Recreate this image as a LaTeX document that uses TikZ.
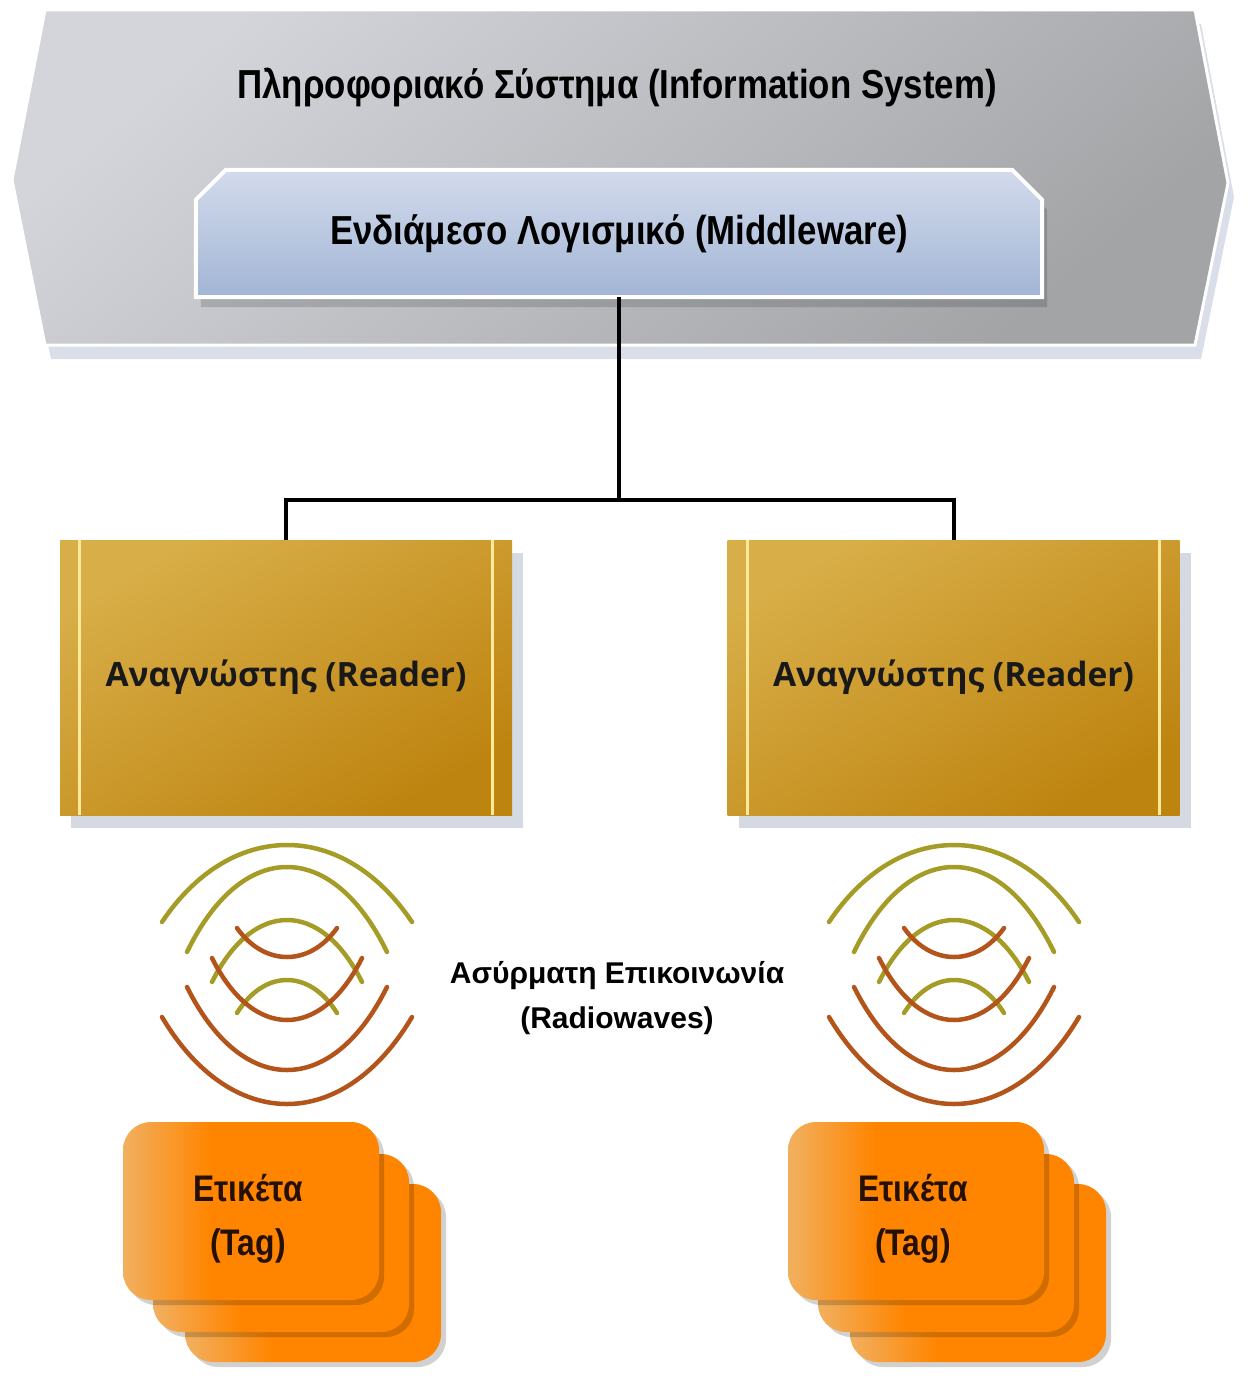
\documentclass[tikz,border=0pt]{standalone}
\usepackage{fontspec}
\setmainfont{Liberation Sans}
\newfontfamily\narrowfont[FakeStretch=0.86]{Liberation Sans}
\newfontfamily\readerfont{Open Sans}
\usetikzlibrary{positioning,shadows,backgrounds}

\definecolor{syslight}{HTML}{D3D5DB}
\definecolor{sysdark}{HTML}{A3A4A6}
\definecolor{sysshadow}{HTML}{D9DEE8}
\definecolor{mwlight}{HTML}{D3DBEC}
\definecolor{mwdark}{HTML}{A2B5D5}
\definecolor{readerlight}{HTML}{D8AE48}
\definecolor{readerdark}{HTML}{BE8410}
\definecolor{readerline}{HTML}{FFEA9C}
\definecolor{shadowgray}{HTML}{D4D9E2}
\definecolor{waveolive}{HTML}{A49C26}
\definecolor{wavebrown}{HTML}{B3541B}
\definecolor{taglight}{HTML}{F1B060}
\definecolor{tagorange}{HTML}{FF8500}
\definecolor{tagtext}{HTML}{241005}

\pgfdeclarehorizontalshading{tagshade}{100bp}{color(0bp)=(taglight); color(25bp)=(taglight); color(42bp)=(tagorange); color(100bp)=(tagorange)}

\begin{document}
\begin{tikzpicture}[x=1pt,y=-1pt,
  link/.style={line width=4pt,black},
  bigtext/.style={font=\narrowfont\bfseries\fontsize{40.5}{44}\selectfont},
  reader/.style={minimum width=452pt,minimum height=275pt,inner sep=0pt,
    top color=readerlight,bottom color=readerdark,shading angle=30,
    drop shadow={shadow xshift=11pt,shadow yshift=-13pt,fill=shadowgray,opacity=1},
    font=\readerfont\bfseries\fontsize{33.5}{36}\selectfont,text=black!90},
  tagcard/.style={minimum width=256pt,minimum height=178pt,rounded corners=28pt,
    shading=tagshade,drop shadow={shadow xshift=5pt,shadow yshift=-5pt,fill=black,opacity=0.18}},
  tagtext/.style={font=\narrowfont\bfseries\fontsize{37}{54}\selectfont,text=tagtext,align=center},
  olive/.style={waveolive,line width=4.5pt,line cap=round},
  brown/.style={wavebrown,line width=4.5pt,line cap=round}]

\useasboundingbox (0,0) rectangle (1252,1378);

% system and middleware
\node[bigtext] (sys) at (617,88) {Πληροφοριακό Σύστημα (Information System)};
\node[bigtext,minimum width=846pt,minimum height=127pt] (mw) at (619,233.5) {Ενδιάμεσο Λογισμικό (Middleware)};

\begin{scope}[on background layer]
\path[top color=syslight,bottom color=sysdark,shading angle=40,draw=white,line width=3pt,
  drop shadow={shadow xshift=6pt,shadow yshift=-14pt,fill=sysshadow,opacity=1}]
  (45,10) -- (1195,10) -- (1228,183) -- (1195,345) -- (45,345) -- (12,180) -- cycle;
\path[top color=mwlight,bottom color=mwdark,draw=white,line width=4pt,
  drop shadow={shadow xshift=5pt,shadow yshift=-10pt,fill=black,opacity=0.15}]
  (mw.south west) -- ([yshift=-30pt]mw.north west) -- ([xshift=30pt]mw.north west)
  -- ([xshift=-30pt]mw.north east) -- ([yshift=-30pt]mw.north east) -- (mw.south east) -- cycle;
\end{scope}

% readers
\node[reader] (rd1) at (286,677.5) {Αναγνώστης (Reader)};
\node[reader] (rd2) at (953.5,677.5) {Αναγνώστης (Reader)};
\foreach \r in {rd1,rd2} {
  \draw[readerline,line width=3pt] ([xshift=20pt]\r.north west) -- ([xshift=20pt]\r.south west);
  \draw[readerline,line width=3pt] ([xshift=-20pt]\r.north east) -- ([xshift=-20pt]\r.south east);
}

\coordinate (bus) at (619,500);
\draw[link] (mw.south) -- (bus);
\draw[link] (rd1.north) |- (bus) -| (rd2.north);

% radio waves
\foreach \cx in {287,954} {
  \foreach \w/\yb/\ya in {125/922/845,100/952/867,75/982/920,50/1013/980}
    \draw[olive] ({\cx-\w},\yb) .. controls ({\cx-0.45*\w},{(4*\ya-\yb)/3}) and ({\cx+0.45*\w},{(4*\ya-\yb)/3}) .. ({\cx+\w},\yb);
  \foreach \w/\yb/\ya in {50/928/957,75/958/1020,100/987/1070,125/1017/1104}
    \draw[brown] ({\cx-\w},\yb) .. controls ({\cx-0.45*\w},{(4*\ya-\yb)/3}) and ({\cx+0.45*\w},{(4*\ya-\yb)/3}) .. ({\cx+\w},\yb);
}
\node[font=\bfseries\fontsize{30}{45}\selectfont,align=center] (rw) at (617,998) {Ασύρματη Επικοινωνία\\(Radiowaves)};

% tags
\foreach \cx/\nm in {251/L,916/R} {
  \node[tagcard] (tag\nm3) at (\cx+62,1273) {};
  \node[tagcard] (tag\nm2) at (\cx+30,1243) {};
  \node[tagcard] (tag\nm) at (\cx,1211) {};
  \node[tagtext] (tagtxt\nm) at ([xshift=-3pt,yshift=-8pt]tag\nm.center) {Ετικέτα\\(Tag)};
}

\end{tikzpicture}
\end{document}
